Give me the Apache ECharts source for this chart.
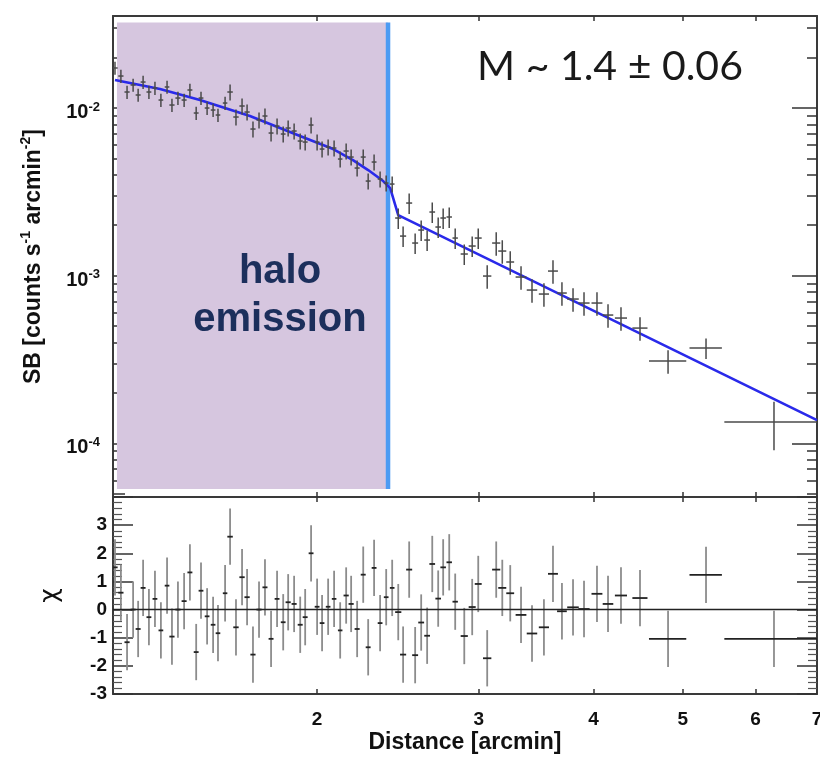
<!DOCTYPE html>
<html>
<head>
<meta charset="utf-8">
<script src="https://cdn.jsdelivr.net/npm/echarts@6/dist/echarts.min.js"></script>
<style>html,body{margin:0;padding:0;background:#fff}#c{width:820px;height:759px}</style>
</head>
<body>
<div id="c"></div>
<script>
// ---------------- data ----------------
const distance = [1.206,1.224,1.243,1.262,1.278,1.294,1.313,1.333,1.353,1.374,
  1.391,1.412,1.434,1.455,1.478,1.496,1.519,1.542,1.561,1.589,
  1.609,1.633,1.658,1.679,1.704,1.730,1.756,1.783,1.810,1.838,
  1.861,1.889,1.918,1.942,1.971,2.001,2.026,2.057,2.088,2.120,
  2.152,2.179,2.212,2.246,2.274,2.308,2.343,2.379,2.415,
  2.452,2.482,2.520,2.558,2.597,2.636,2.670,2.710,2.744,2.786,
  2.828,2.893,2.951,2.996,3.064,3.134,3.182,3.246,3.335,3.428,
  3.532,3.613,3.695,3.799,3.905,4.034,4.147,4.284,4.493,4.820,
  5.301,6.285];
const distanceErr = [0.008,0.008,0.008,0.008,0.008,0.008,0.008,0.008,0.008,0.008,
  0.009,0.009,0.009,0.009,0.009,0.009,0.009,0.009,0.009,0.009,
  0.011,0.011,0.011,0.011,0.011,0.011,0.011,0.011,0.011,0.011,
  0.012,0.012,0.012,0.012,0.012,0.012,0.012,0.012,0.012,0.012,
  0.014,0.014,0.014,0.014,0.014,0.014,0.014,0.014,0.014,
  0.019,0.019,0.019,0.019,0.019,0.019,0.019,0.019,0.019,0.019,
  0.019,0.026,0.026,0.026,0.032,0.032,0.032,0.032,0.045,0.045,
  0.045,0.045,0.045,0.055,0.055,0.055,0.055,0.065,0.085,0.225,
  0.215,0.735];
const surfaceBrightness = [0.01733,0.01552,0.01246,0.01372,0.01196,0.01429,0.01246,0.01316,0.01116,0.01335,
  0.01042,0.01147,0.01116,0.01281,0.009337,0.01147,0.01000,0.009729,0.009084,0.01071,
  0.01246,0.008838,0.01028,0.009465,0.007493,0.008481,0.008960,0.007093,0.007809,0.006997,
  0.007597,0.007291,0.006354,0.006267,0.007917,0.006267,0.005692,0.005851,0.005771,0.004962,
  0.005538,0.005100,0.004385,0.005100,0.003667,0.004762,0.003769,0.003568,0.003519,
  0.002207,0.001722,0.002711,0.001565,0.001871,0.001631,0.002396,0.001950,0.002207,0.002238,
  0.001676,0.001346,0.001502,0.001676,0.0009945,0.001565,0.001402,0.001206,0.0009810,0.0008205,
  0.0007767,0.001065,0.0007875,0.0007251,0.0006864,0.0006864,0.0005820,0.0005585,0.0004866,0.0003094,
  0.0003698,0.0001338];
const sbErrFrac = [0.09,0.09,0.09,0.09,0.09,0.09,0.09,0.09,0.09,0.09,
  0.09,0.09,0.09,0.09,0.09,0.09,0.09,0.09,0.09,0.09,
  0.11,0.11,0.11,0.11,0.11,0.11,0.11,0.11,0.11,0.11,
  0.11,0.11,0.11,0.11,0.11,0.11,0.11,0.11,0.11,0.11,
  0.11,0.11,0.11,0.11,0.11,0.11,0.11,0.11,0.11,
  0.14,0.14,0.14,0.14,0.14,0.14,0.14,0.14,0.14,0.14,
  0.14,0.14,0.14,0.14,0.16,0.16,0.16,0.16,0.16,0.16,
  0.16,0.16,0.16,0.16,0.16,0.16,0.16,0.16,0.16,0.16,
  0.14,0.32];
const chi = [1.5,0.6,-1.16,0.0,-0.69,0.77,-0.27,0.38,-0.74,0.85,
  -0.96,0.0,0.30,1.32,-1.51,0.67,-0.24,-0.54,-0.84,0.58,
  2.59,-0.63,1.15,0.44,-1.60,0.0,0.79,-1.04,0.38,-0.45,
  0.26,0.20,-0.54,-0.27,2.0,0.1,-0.48,0.1,0.38,-0.74,
  0.50,0.2,-0.69,1.24,-1.34,1.48,-0.48,0.44,0.77,
  -0.09,-1.60,1.42,-1.62,-0.46,-0.93,1.62,0.39,1.50,1.68,
  0.28,-0.94,0.09,0.91,-1.73,1.42,0.77,0.58,-0.19,-0.85,
  -0.63,1.27,-0.06,0.08,0.02,0.56,0.20,0.50,0.41,-1.04,
  1.23,-1.04];
const CHI_ERR = 1;
const modelDistance = [1.206,1.350,1.492,1.691,1.917,2.083,2.189,2.274,2.361,2.403,2.452,7.0];
const modelSB = [0.014692,0.012982,0.011162,0.008960,0.006807,0.005692,0.004894,0.004266,0.003667,0.003331,0.002299,0.00013753];
const haloDistance = [1.212, 2.39];
const haloSB = [5.33e-5, 0.0324];
const xTickValues = [2, 3, 4, 5, 6, 7];
const sbMajorTicks = [1e-4, 1e-3, 1e-2];
const sbMinorTicks = [5e-5,6e-5,7e-5,8e-5,9e-5,2e-4,3e-4,4e-4,5e-4,6e-4,7e-4,8e-4,9e-4,
  2e-3,3e-3,4e-3,5e-3,6e-3,7e-3,8e-3,9e-3,2e-2,3e-2];
const xRange = [1.2, 7];
const sbRange = [4.78e-5, 0.0354];
const chiRange = [-3, 4];

// ---------------- chart ----------------
const FONT = '"Liberation Sans", Arial, Helvetica, sans-serif';
const frameLine = {show: true, onZero: false, lineStyle: {color: '#3a3a3a', width: 2}};
const noLine = {show: false, onZero: false};
const tickStyle = {color: '#333', width: 1.5};

function xAxisDef(gridIndex, position, labels) {
  const a = {
    type: 'log', gridIndex, position, min: xRange[0], max: xRange[1],
    axisLine: frameLine,
    axisTick: {inside: true, length: 5, customValues: xTickValues.slice(0, 5), lineStyle: tickStyle},
    axisLabel: {show: false},
    splitLine: {show: false}, minorTick: {show: false}
  };
  if (labels) {
    a.axisLabel = {show: true, customValues: xTickValues, margin: 16,
      formatter: v => String(Math.round(v)),
      fontFamily: FONT, fontWeight: 'bold', fontSize: 19, color: '#111'};
    a.name = 'Distance [arcmin]';
    a.nameLocation = 'middle';
    a.nameGap = 37;
    a.nameTextStyle = {fontFamily: FONT, fontWeight: 'bold', fontSize: 23, color: '#111'};
  }
  return a;
}

function sbAxisDef(position, major, labels) {
  const a = {
    type: 'log', gridIndex: 0, position, min: sbRange[0], max: sbRange[1],
    axisLine: major ? frameLine : noLine,
    axisTick: {inside: true, length: major ? 25 : (position === 'left' ? 12 : 10),
      customValues: major ? sbMajorTicks : sbMinorTicks, lineStyle: tickStyle},
    axisLabel: {show: false},
    splitLine: {show: false}, minorTick: {show: false}
  };
  if (labels) {
    a.axisLabel = {
      show: true, customValues: sbMajorTicks, margin: 13, padding: [9, 0, 0, 0],
      formatter: v => '{b|10}{s|' + Math.round(Math.log10(v)) + '}',
      rich: {
        b: {fontFamily: FONT, fontWeight: 'bold', fontSize: 20, color: '#111', lineHeight: 24},
        s: {fontFamily: FONT, fontWeight: 'bold', fontSize: 13, color: '#111', verticalAlign: 'top', lineHeight: 24}
      }
    };
    a.name = '{a|SB [counts s}{s|-1}{a| arcmin}{s|-2}{a|]}';
    a.nameLocation = 'middle';
    a.nameRotate = 90;
    a.nameGap = 64;
    a.nameTextStyle = {rich: {
      a: {fontFamily: FONT, fontWeight: 'bold', fontSize: 23, color: '#111', lineHeight: 30},
      s: {fontFamily: FONT, fontWeight: 'bold', fontSize: 14, color: '#111', verticalAlign: 'top', lineHeight: 30}
    }};
  }
  return a;
}

function chiAxisDef(position, labels) {
  const a = {
    type: 'value', gridIndex: 1, position, min: chiRange[0], max: chiRange[1], interval: 1,
    axisLine: frameLine,
    axisTick: {inside: true, length: 20, lineStyle: tickStyle},
    minorTick: {show: true, splitNumber: 5, length: 9, lineStyle: {color: '#555', width: 1.2}},
    axisLabel: {show: false},
    splitLine: {show: false}
  };
  if (labels) {
    a.axisLabel = {show: true, margin: 6, fontFamily: FONT, fontWeight: 'bold', fontSize: 19, color: '#111',
      formatter: v => (v >= chiRange[1] ? '' : String(v))};
    a.name = 'χ';
    a.nameLocation = 'middle';
    a.nameRotate = 90;
    a.nameGap = 50;
    a.nameTextStyle = {fontFamily: '"DejaVu Sans", sans-serif', fontSize: 25, color: '#111'};
  }
  return a;
}

function crossRenderer(hColor, vColor, width) {
  return function (params, api) {
    const x = api.value(0), y = api.value(1), xe = api.value(2), ylo = api.value(3), yhi = api.value(4);
    const pL = api.coord([x - xe, y]), pR = api.coord([x + xe, y]);
    const pB = api.coord([x, ylo]), pT = api.coord([x, yhi]);
    return {type: 'group', children: [
      {type: 'line', shape: {x1: pB[0], y1: pB[1], x2: pT[0], y2: pT[1]}, style: {stroke: vColor, lineWidth: width}},
      {type: 'line', shape: {x1: pL[0], y1: pL[1], x2: pR[0], y2: pR[1]}, style: {stroke: hColor, lineWidth: width}}
    ]};
  };
}

const sbRows = distance.map((d, i) => [d, surfaceBrightness[i], distanceErr[i],
  surfaceBrightness[i] * (1 - sbErrFrac[i]), surfaceBrightness[i] * (1 + sbErrFrac[i])]);
const chiRows = distance.map((d, i) => [d, chi[i], distanceErr[i], chi[i] - CHI_ERR, chi[i] + CHI_ERR]);
const modelRows = modelDistance.map((d, i) => [d, modelSB[i]]);

const chart = echarts.init(document.getElementById('c'), null, {renderer: 'canvas'});
chart.setOption({
  animation: false,
  backgroundColor: '#fff',
  grid: [
    {left: 113, top: 16, width: 704, height: 481, containLabel: false, outerBoundsMode: 'none'},
    {left: 113, top: 497, width: 704, height: 197, containLabel: false, outerBoundsMode: 'none'}
  ],
  xAxis: [
    xAxisDef(0, 'bottom', false),
    xAxisDef(0, 'top', false),
    xAxisDef(1, 'bottom', true),
    xAxisDef(1, 'top', false)
  ],
  yAxis: [
    sbAxisDef('left', true, true),
    sbAxisDef('right', true, false),
    sbAxisDef('left', false, false),
    sbAxisDef('right', false, false),
    chiAxisDef('left', true),
    chiAxisDef('right', false)
  ],
  series: [
    {
      type: 'line', name: 'halo region', xAxisIndex: 0, yAxisIndex: 0, z: 1,
      data: [[haloDistance[0], haloSB[0]], [haloDistance[1], haloSB[1]]],
      showSymbol: false, symbol: 'none', lineStyle: {opacity: 0}, silent: true,
      markArea: {silent: true, itemStyle: {color: '#d6c6df'},
        data: [[{coord: [haloDistance[0], haloSB[0]]}, {coord: [haloDistance[1], haloSB[1]]}]]}
    },
    {
      type: 'line', name: 'halo edge', xAxisIndex: 0, yAxisIndex: 0, z: 2,
      data: [[haloDistance[1], haloSB[0]], [haloDistance[1], haloSB[1]]],
      symbol: 'none', lineStyle: {color: '#4c9bf3', width: 4.5}, silent: true
    },
    {
      type: 'line', name: 'model', xAxisIndex: 0, yAxisIndex: 0, z: 3,
      data: modelRows, symbol: 'none', lineStyle: {color: '#2a2aea', width: 2.6}, silent: true
    },
    {
      type: 'custom', name: 'SB', xAxisIndex: 0, yAxisIndex: 0, z: 4, clip: true,
      data: sbRows, encode: {x: 0, y: 1},
      renderItem: crossRenderer('#4a4a4a', '#4a4a4a', 1.5)
    },
    {
      type: 'custom', name: 'chi', xAxisIndex: 2, yAxisIndex: 4, z: 4, clip: true,
      data: chiRows, encode: {x: 0, y: 1},
      renderItem: crossRenderer('#222', '#8c8c8c', 1.8),
      markLine: {silent: true, symbol: 'none', label: {show: false},
        lineStyle: {color: '#222', width: 1.3, type: 'solid'}, data: [{yAxis: 0}]}
    }
  ],
  graphic: [
    {type: 'text', x: 610, y: 67, z: 10, style: {text: 'M ~ 1.4 ± 0.06', font: '41px Lato, "Open Sans", sans-serif',
      fill: '#1a1a1a', textAlign: 'center', textVerticalAlign: 'middle'}},
    {type: 'text', x: 280, y: 272, z: 10, style: {text: 'halo', font: 'bold 40px ' + FONT,
      fill: '#1c2f5c', textAlign: 'center', textVerticalAlign: 'middle'}},
    {type: 'text', x: 280, y: 320, z: 10, style: {text: 'emission', font: 'bold 40px ' + FONT,
      fill: '#1c2f5c', textAlign: 'center', textVerticalAlign: 'middle'}}
  ]
});
</script>
</body>
</html>
